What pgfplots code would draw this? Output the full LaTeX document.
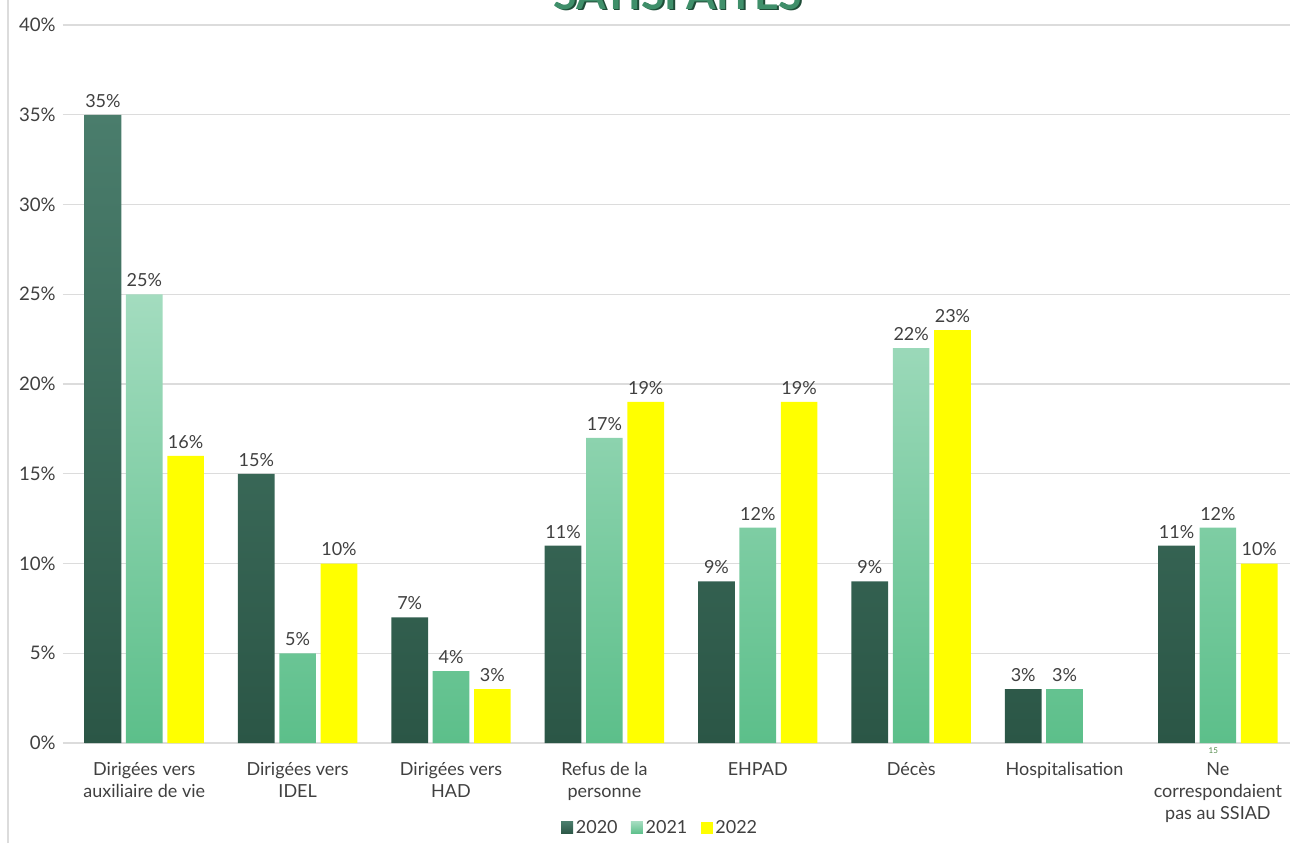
\documentclass[border=0pt]{standalone}
\usepackage{pgfplots}
\pgfplotsset{compat=1.18}
\usepackage{fontspec}
\setmainfont{Lato}
\definecolor{gAt}{HTML}{4A7D6C}
\definecolor{gAb}{HTML}{2B5646}
\definecolor{gBt}{HTML}{A3DCBF}
\definecolor{gBb}{HTML}{5CBF8A}
\definecolor{yel}{HTML}{FFFF00}
\definecolor{txt}{HTML}{404040}
\definecolor{gridc}{HTML}{DCDCDC}
\definecolor{ttl}{HTML}{3F8F6A}
\definecolor{ttld}{HTML}{1F4D38}
\begin{document}
\begin{tikzpicture}
\useasboundingbox (-47.25pt,-75pt) rectangle (922.5pt,557.25pt);
\draw[gridc, line width=0.8pt] (-41.25pt,-75pt) -- (-41.25pt,557.25pt);
\node[anchor=base, font=\fontsize{32}{36}\selectfont\bfseries, text=ttld] at (462.5pt,549pt) {SATISFAITES};
\node[anchor=base, font=\fontsize{32}{36}\selectfont\bfseries, text=ttl] at (461.25pt,550.25pt) {SATISFAITES};
\begin{axis}[
  at={(0,0)}, anchor=south west,
  scale only axis, width=920.25pt, height=538.5pt,
  ymin=0, ymax=40, xmin=-0.53, xmax=7.47,
  ytick={0,5,...,40},
  yticklabel={\pgfmathprintnumber{\tick}\%},
  /pgf/number format/assume math mode=true,
  xtick={0,...,7},
  xticklabels={Dirigées vers\\auxiliaire de vie, Dirigées vers\\IDEL, Dirigées vers\\HAD, Refus de la\\personne, EHPAD, Décès, Hospitalisation, Ne\\correspondaient\\pas au SSIAD},
  xticklabel style={align=center, font=\fontsize{13.5}{16.5}\selectfont, text=txt, yshift=-11pt},
  yticklabel style={font=\fontsize{14}{16}\selectfont, text=txt, xshift=-2pt},
  ymajorgrids, grid style={gridc, line width=0.8pt},
  axis line style={draw=none},
  major tick length=0pt,
  ybar=3.5pt, bar width=27.5pt,
  nodes near coords={\pgfmathprintnumber[assume math mode=true]{\pgfplotspointmeta}\%},
  every node near coord/.append style={font=\fontsize{13.5}{15}\selectfont, text=txt, yshift=2pt},
  legend style={at={(0.487,-0.118)}, anchor=center, draw=none, fill=none, legend columns=-1,
    font=\fontsize{13.5}{15}\selectfont, text=txt,
    /tikz/every even column/.append style={column sep=8pt}},
  legend image code/.code={\fill[#1] (0pt,-4.5pt) rectangle (9pt,4.5pt);},
  clip=false,
]
\addplot[draw=none, top color=gAt, bottom color=gAb] coordinates {(0,35) (1,15) (2,7) (3,11) (4,9) (5,9) (6,3) (7,11)};
\addplot[draw=none, top color=gBt, bottom color=gBb] coordinates {(0,25) (1,5) (2,4) (3,17) (4,12) (5,22) (6,3) (7,12)};
\addplot[draw=none, fill=yel] coordinates {(0,16) (1,10) (2,3) (3,19) (4,19) (5,23) (7,10)};
\legend{2020, 2021, 2022}
\node[font=\fontsize{6}{7}\selectfont, text=ttl!70!olive] at (axis cs:6.97,-0.45) {15};
\end{axis}
\end{tikzpicture}
\end{document}
